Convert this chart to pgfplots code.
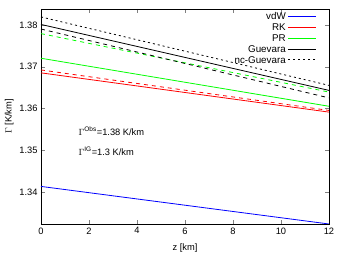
\documentclass[border=0pt]{standalone}
\usepackage{pgfplots}
\pgfplotsset{compat=1.18}
\usepackage{fontspec}
\setmainfont{Liberation Sans}
\begin{document}
\begin{tikzpicture}
\path[use as bounding box] (-41pt,-32pt) rectangle (297pt,224pt);
\begin{axis}[
  scale only axis, width=288pt, height=215pt,
  xmin=0, xmax=12, ymin=1.3323, ymax=1.3838,
  xtick={0,2,...,12}, ytick={1.34,1.35,1.36,1.37,1.38},
  yticklabel style={/pgf/number format/fixed, /pgf/number format/precision=2, /pgf/number format/fixed zerofill},
  /pgf/number format/assume math mode=true,
  tick label style={font=\fontsize{9.3}{10}\selectfont},
  label style={font=\fontsize{9.3}{10}\selectfont},
  xlabel={z [km]}, ylabel={$\Gamma$ [K/km]},
  xlabel style={yshift=-3pt},
  ylabel style={yshift=-1pt},
  tick align=inside, major tick length=4pt, minor tick num=0,
  axis line style={line width=0.6pt},
  legend style={draw=none, fill=none, font=\fontsize{9.8}{9.8}\selectfont, at={(rel axis cs:0.962,0.997)}, anchor=north east, row sep=-1.5pt, inner sep=1pt},
  legend cell align=right, legend plot pos=right,
  legend image code/.code={\draw[#1, line width=1.1pt] (0pt,0.5pt) -- (28pt,0.5pt);},
]
\addplot[blue, line width=0.8pt] coordinates {(0,1.3413) (12,1.3323)};
\addlegendentry{vdW}
\addplot[red, line width=0.8pt] coordinates {(0,1.3685) (12,1.3591)};
\addlegendentry{RK}
\addplot[green, line width=0.8pt] coordinates {(0,1.3720) (12,1.3605)};
\addlegendentry{PR}
\addplot[black, line width=0.8pt] coordinates {(0,1.3801) (12,1.3643)};
\addlegendentry{Guevara}
\addplot[black, line width=0.8pt, dash pattern=on 2pt off 3pt] coordinates {(0,1.3819) (12,1.3655)};
\addlegendentry{nc-Guevara}
\addplot[red, line width=0.8pt, dash pattern=on 4pt off 4pt, forget plot] coordinates {(0,1.3692) (12,1.3595)};
\addplot[green, line width=0.8pt, dash pattern=on 4pt off 4pt, forget plot] coordinates {(0,1.3779) (12,1.3639)};
\addplot[black, line width=0.8pt, dash pattern=on 4pt off 4pt, forget plot] coordinates {(0,1.3790) (12,1.3625)};
\node[anchor=west, font=\fontsize{9.3}{10}\selectfont] at (axis cs:1.42,1.3546) {$\Gamma$\textsuperscript{Obs}=1.38 K/km};
\node[anchor=west, font=\fontsize{9.3}{10}\selectfont] at (axis cs:1.42,1.3497) {$\Gamma$\textsuperscript{IG}=1.3 K/km};
\end{axis}
\end{tikzpicture}
\end{document}
